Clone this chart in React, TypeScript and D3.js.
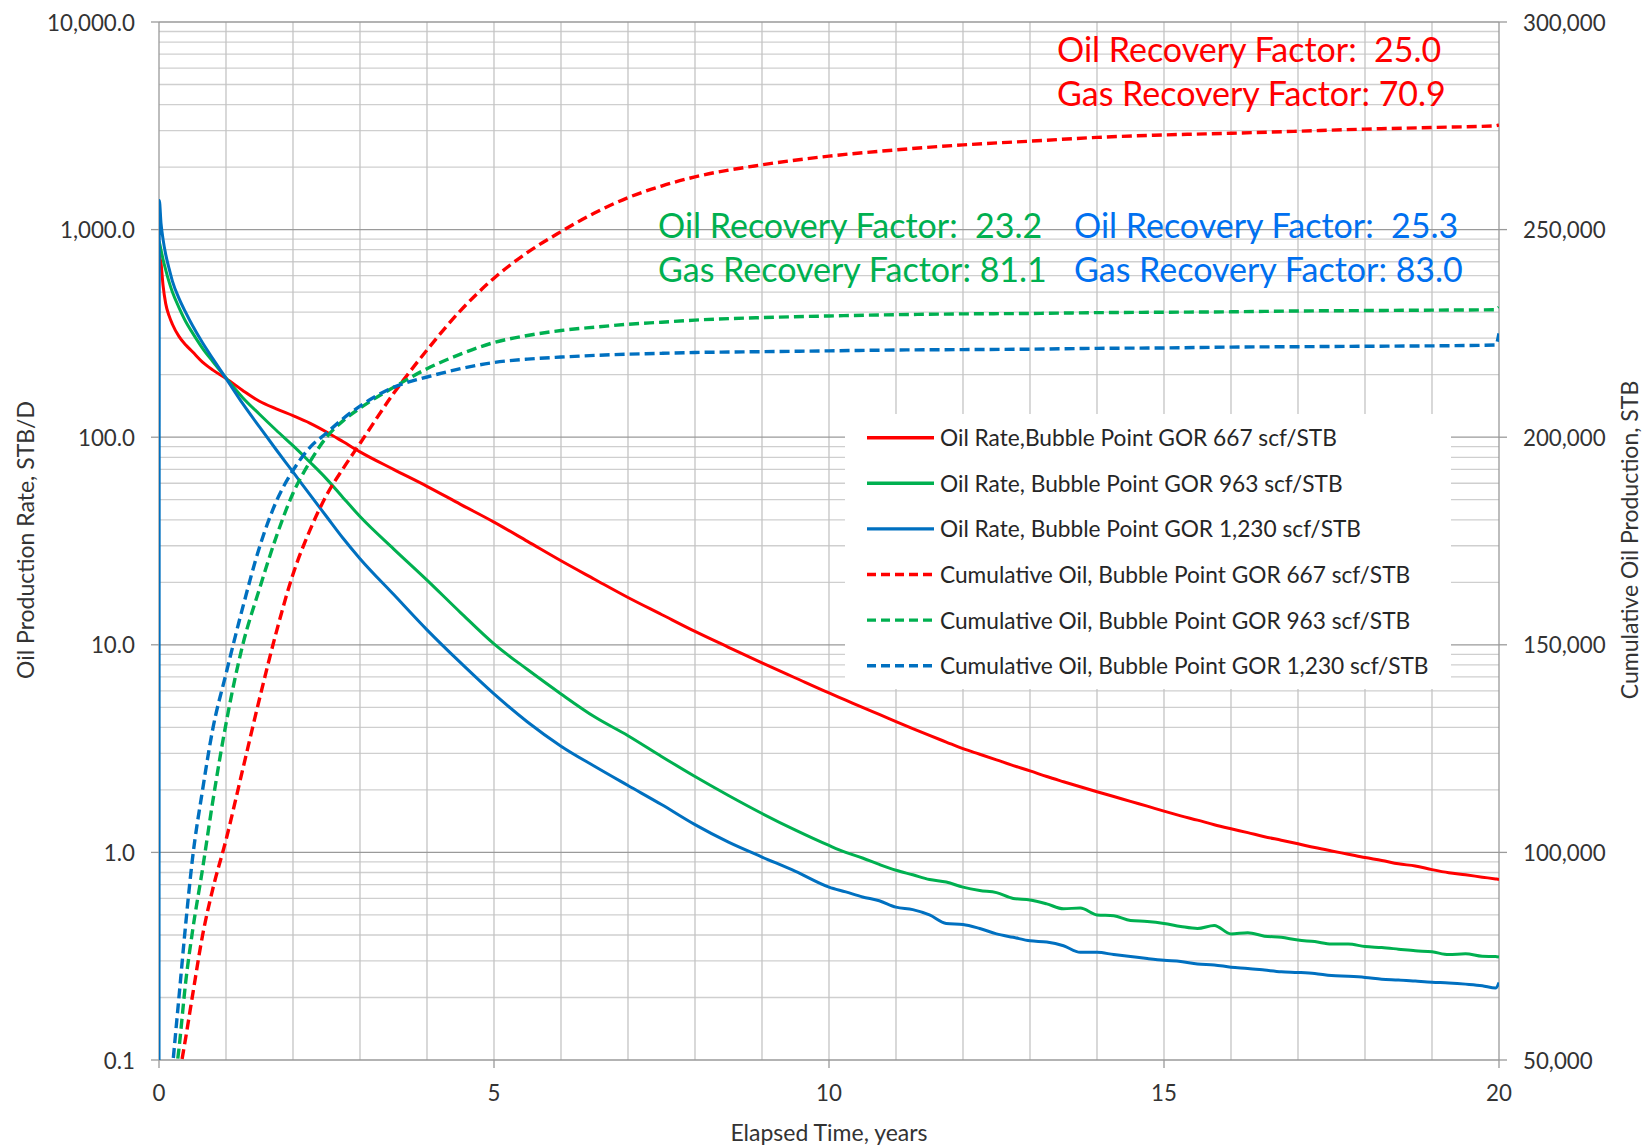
import React from "react";
import * as d3 from "d3";

// ---------- data ----------
const rateYears = [0, 0.005, 0.03, 0.06, 0.1, 0.15, 0.2, 0.3, 0.4, 0.5, 0.65, 0.8, 1.0, 1.25, 1.5, 1.75, 2.0, 2.25, 2.5, 2.75, 3.0, 3.5, 4.0, 4.5, 5.0, 5.5, 6.0, 6.5, 7.0, 7.5, 8.0, 8.5, 9.0, 9.5,
  10.0, 10.25, 10.5, 10.75, 11.0, 11.25, 11.5, 11.75, 12.0, 12.25, 12.5, 12.75, 13.0, 13.25, 13.5, 13.75, 14.0, 14.25, 14.5, 14.75,
  15.0, 15.25, 15.5, 15.75, 16.0, 16.25, 16.5, 16.75, 17.0, 17.25, 17.5, 17.75, 18.0, 18.25, 18.5, 18.75, 19.0, 19.25, 19.5, 19.75, 19.95, 20.0];

const oilRate667 = [800, 760, 690, 540, 440, 385, 350, 305, 278, 258, 230, 211, 192, 168, 149, 137, 127, 117, 106, 95, 85, 70, 58, 47.5, 39, 31.5, 25.4, 20.7, 16.9, 14.0, 11.6, 9.73, 8.18, 6.92,
  5.86, 5.41, 4.99, 4.62, 4.27, 3.95, 3.66, 3.40, 3.16, 2.97, 2.79, 2.62, 2.47, 2.32, 2.19, 2.07, 1.96, 1.86, 1.76, 1.67,
  1.58, 1.50, 1.43, 1.36, 1.30, 1.245, 1.19, 1.145, 1.10, 1.055, 1.016, 0.98, 0.944, 0.915, 0.881, 0.86, 0.826, 0.798, 0.78, 0.76, 0.745, 0.741];

const oilRate963 = [880, 870, 800, 720, 640, 560, 500, 420, 360, 318, 268, 232, 193, 155, 129, 108, 91, 76, 63, 51, 41.5, 29, 20.5, 14.3, 10.1, 7.6, 5.8, 4.5, 3.65, 2.9, 2.32, 1.88, 1.54, 1.28,
  1.08, 1.0, 0.94, 0.875, 0.82, 0.78, 0.74, 0.72, 0.68, 0.655, 0.64, 0.6, 0.59, 0.565, 0.535, 0.54, 0.5, 0.495, 0.47, 0.465,
  0.455, 0.44, 0.43, 0.445, 0.405, 0.41, 0.395, 0.39, 0.378, 0.372, 0.362, 0.362, 0.352, 0.348, 0.342, 0.336, 0.332, 0.322, 0.325, 0.316, 0.315, 0.313];

const oilRate1230 = [0.01, 1380, 1075, 900, 760, 650, 565, 465, 398, 345, 285, 240, 192, 145, 112, 87, 68, 53, 41.5, 32.5, 26, 17.5, 11.8, 8.2, 5.8, 4.25, 3.25, 2.6, 2.1, 1.7, 1.36, 1.12, 0.95, 0.81,
  0.68, 0.645, 0.61, 0.585, 0.545, 0.53, 0.5, 0.455, 0.45, 0.43, 0.405, 0.39, 0.375, 0.37, 0.355, 0.33, 0.33, 0.322, 0.315, 0.308,
  0.302, 0.298, 0.29, 0.287, 0.28, 0.276, 0.271, 0.266, 0.264, 0.261, 0.255, 0.253, 0.25, 0.245, 0.243, 0.24, 0.237, 0.235, 0.232, 0.228, 0.222, 0.236];

const cumYears = [0, 0.1, 0.2, 0.3, 0.4, 0.5, 0.65, 0.8, 1.0, 1.25, 1.5, 1.75, 2.0, 2.25, 2.5, 2.75, 3.0, 3.5, 4.0, 4.5, 5.0, 5.5, 6, 6.5, 7, 7.5, 8, 9, 10, 11, 12, 13, 14, 15, 16, 17, 18, 19, 19.95, 20];

const cumOil667 = [0, 20000, 36000, 46000, 55500, 65500, 80000, 91000, 103000, 120000, 137000, 153000, 167000, 177500, 186000, 192500, 198500, 210500, 221000, 230500, 238300, 244500, 249500, 254000, 257700, 260500, 262700, 265600, 267700, 269200, 270400, 271300, 272200, 272800, 273200, 273700, 274200, 274600, 275000, 275200];

const cumOil963 = [0, 25000, 40000, 53000, 69000, 81000, 96000, 112000, 131000, 150000, 163500, 176000, 186500, 194000, 200000, 204000, 207000, 212000, 216500, 220000, 222800, 224500, 225700, 226500, 227200, 227700, 228200, 228800, 229200, 229500, 229700, 229800, 230000, 230100, 230200, 230400, 230500, 230600, 230700, 231300];

const cumOil1230 = [0, 30000, 48000, 65500, 83000, 98500, 115000, 129500, 143000, 159000, 173500, 184500, 192000, 197500, 201000, 204500, 207500, 212000, 214500, 216500, 218000, 218800, 219300, 219700, 220000, 220200, 220400, 220600, 220800, 221000, 221100, 221200, 221400, 221500, 221700, 221800, 221900, 222000, 222200, 225000];

const xTicks = [0, 5, 10, 15, 20];
const yLeftTicks = [0.1, 1, 10, 100, 1000, 10000];
const yRightTicks = [50000, 100000, 150000, 200000, 250000, 300000];

const legendLabels = [
  "Oil Rate,Bubble Point GOR 667 scf/STB",
  "Oil Rate, Bubble Point GOR 963 scf/STB",
  "Oil Rate, Bubble Point GOR 1,230 scf/STB",
  "Cumulative Oil, Bubble Point GOR 667 scf/STB",
  "Cumulative Oil, Bubble Point GOR 963 scf/STB",
  "Cumulative Oil, Bubble Point GOR 1,230 scf/STB",
];

const annotations = [
  { lines: ["Oil Recovery Factor:  25.0", "Gas Recovery Factor: 70.9"], color: "#FF0000", x: 1057, y: 62 },
  { lines: ["Oil Recovery Factor:  23.2", "Gas Recovery Factor: 81.1"], color: "#00B050", x: 658, y: 238 },
  { lines: ["Oil Recovery Factor:  25.3", "Gas Recovery Factor: 83.0"], color: "#0070F0", x: 1074, y: 238 },
];

// ---------- layout ----------
const W = 1645, H = 1147;
const L = 159, R = 1499, T = 22, B = 1060;
const FONT = "Lato, 'Open Sans', sans-serif";
const RED = "#FF0000", GREEN = "#00B050", BLUE = "#0070C0";

export default function App() {
  const x = d3.scaleLinear().domain([0, 20]).range([L, R]);
  const yL = d3.scaleLog().domain([0.1, 10000]).range([B, T]);
  const yR = d3.scaleLinear().domain([50000, 300000]).range([B, T]);

  const rateLine = d3
    .line<[number, number]>()
    .x((d) => x(d[0]))
    .y((d) => yL(d[1]))
    .curve(d3.curveMonotoneX);
  const cumLine = d3
    .line<[number, number]>()
    .x((d) => x(d[0]))
    .y((d) => yR(d[1]))
    .curve(d3.curveMonotoneX);

  const zipR = (v: number[]) => rateYears.map((t, i) => [t, v[i]] as [number, number]);
  const zipC = (v: number[]) => cumYears.map((t, i) => [t, v[i]] as [number, number]);

  const DASH = "10 5";
  const series = [
    { d: rateLine(zipR(oilRate667)), color: RED, dash: null },
    { d: rateLine(zipR(oilRate963)), color: GREEN, dash: null },
    { d: rateLine(zipR(oilRate1230)), color: BLUE, dash: null },
    { d: cumLine(zipC(cumOil667)), color: RED, dash: DASH },
    { d: cumLine(zipC(cumOil963)), color: GREEN, dash: DASH },
    { d: cumLine(zipC(cumOil1230)), color: BLUE, dash: DASH },
  ];

  const minorY: number[] = [];
  for (let k = -1; k < 4; k++) for (let m = 2; m <= 9; m++) minorY.push(m * Math.pow(10, k));
  const vGrid = d3.range(1, 20);

  const fmtL = d3.format(",.1f");
  const fmtR = d3.format(",");

  const legX = 845, legY = 414, legW = 606, legH = 275;
  const rowY = (i: number) => 437.7 + i * 45.6;

  return (
    <svg
      width={W}
      height={H}
      style={{ position: "absolute", left: 0, top: 0, background: "#fff" }}
      fontFamily={FONT}
    >
      <defs>
        <clipPath id="plot">
          <rect x={L} y={T} width={R - L} height={B - T} />
        </clipPath>
      </defs>
      <rect x={0} y={0} width={W} height={H} fill="#fff" />

      {/* gridlines */}
      {minorY.map((v) => (
        <line key={"mn" + v} x1={L} x2={R} y1={yL(v)} y2={yL(v)} stroke="#cfcfcf" strokeWidth={1.3} />
      ))}
      {vGrid.map((t) => (
        <line key={"vg" + t} x1={x(t)} x2={x(t)} y1={T} y2={B} stroke="#c4c4c4" strokeWidth={1.3} />
      ))}
      {yLeftTicks.map((v) => (
        <line key={"mj" + v} x1={L} x2={R} y1={yL(v)} y2={yL(v)} stroke="#9a9a9a" strokeWidth={1.3} />
      ))}

      {/* axes */}
      <line x1={L} x2={L} y1={T} y2={B} stroke="#9a9a9a" strokeWidth={1.3} />
      <line x1={R} x2={R} y1={T} y2={B} stroke="#9a9a9a" strokeWidth={1.3} />
      {yLeftTicks.map((v) => (
        <line key={"lt" + v} x1={L - 8} x2={L} y1={yL(v)} y2={yL(v)} stroke="#9a9a9a" strokeWidth={1.3} />
      ))}
      {yRightTicks.map((v) => (
        <line key={"rt" + v} x1={R} x2={R + 8} y1={yR(v)} y2={yR(v)} stroke="#9a9a9a" strokeWidth={1.3} />
      ))}
      {xTicks.map((t) => (
        <line key={"xt" + t} x1={x(t)} x2={x(t)} y1={B} y2={B + 8} stroke="#9a9a9a" strokeWidth={1.3} />
      ))}

      {/* tick labels */}
      <g fontSize={22.3} fill="#333">
        {yLeftTicks.map((v) => (
          <text key={"ll" + v} x={135} y={yL(v)} textAnchor="end" dominantBaseline="central">
            {fmtL(v)}
          </text>
        ))}
        {yRightTicks.map((v) => (
          <text key={"rl" + v} x={1523} y={yR(v)} textAnchor="start" dominantBaseline="central">
            {fmtR(v)}
          </text>
        ))}
        {xTicks.map((t) => (
          <text key={"xl" + t} x={x(t)} y={1101} textAnchor="middle">
            {t}
          </text>
        ))}
      </g>

      {/* axis titles */}
      <g fontSize={23} fill="#333">
        <text x={829} y={1132} textAnchor="middle" dominantBaseline="central">
          Elapsed Time, years
        </text>
        <text transform="translate(25,540) rotate(-90)" textAnchor="middle" dominantBaseline="central">
          Oil Production Rate, STB/D
        </text>
        <text transform="translate(1629,540) rotate(-90)" textAnchor="middle" dominantBaseline="central">
          Cumulative Oil Production, STB
        </text>
      </g>

      {/* data */}
      <g clipPath="url(#plot)">
        {series.map((s, i) => (
          <path
            key={"s" + i}
            d={s.d || ""}
            fill="none"
            stroke={s.color}
            strokeWidth={s.dash ? 3.4 : 3}
            strokeDasharray={s.dash || undefined}
            strokeLinejoin="round"
          />
        ))}
      </g>

      {/* annotations */}
      {annotations.map((a, i) => (
        <g key={"an" + i} fill={a.color} fontSize={34} style={{ whiteSpace: "pre" }}>
          {a.lines.map((ln, j) => (
            <text key={j} x={a.x} y={a.y + j * 44} xmlSpace="preserve">
              {ln}
            </text>
          ))}
        </g>
      ))}

      {/* legend */}
      <rect x={legX} y={legY} width={legW} height={legH} fill="#fff" />
      {legendLabels.map((lab, i) => (
        <g key={"lg" + i}>
          <line
            x1={867}
            x2={934}
            y1={rowY(i)}
            y2={rowY(i)}
            stroke={series[i].color}
            strokeWidth={3.4}
            strokeDasharray={series[i].dash ? "9 5" : undefined}
          />
          <text x={940} y={rowY(i)} fontSize={22.7} fill="#262626" dominantBaseline="central">
            {lab}
          </text>
        </g>
      ))}
    </svg>
  );
}
